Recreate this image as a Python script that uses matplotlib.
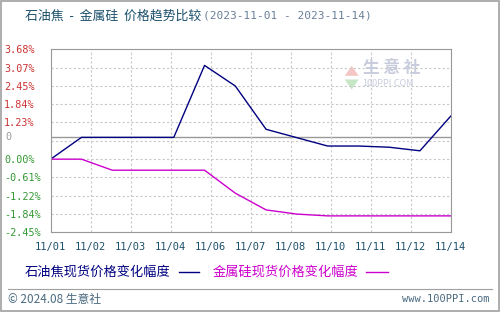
import numpy as np
import matplotlib
matplotlib.use('Agg')
import matplotlib.pyplot as plt
from matplotlib.patches import Rectangle, Polygon
from matplotlib.lines import Line2D
import matplotlib.transforms as mtransforms

plt.rcParams['font.family'] = ['Noto Sans CJK SC', 'DejaVu Sans']

# data: daily change (%) vs 2023-11-01
days = ['11/01', '11/02', '11/03', '11/04', '11/05', '11/06', '11/07',
        '11/08', '11/09', '11/10', '11/11', '11/12', '11/13', '11/14']
pet_coke = [0.00, 0.73, 0.73, 0.73, 0.73, 3.14, 2.45, 1.00, 0.72, 0.44, 0.44, 0.40, 0.28, 1.44]
silicon = [0.00, 0.00, -0.37, -0.37, -0.37, -0.37, -1.14, -1.70, -1.84, -1.90, -1.90, -1.90, -1.90, -1.90]
xlabels = ['11/01', '11/02', '11/03', '11/04', '11/06', '11/07', '11/08', '11/10', '11/11', '11/12', '11/14']
yticks = [-2.45, -1.84, -1.22, -0.61, 0.00, 0.61, 1.23, 1.84, 2.45, 3.07, 3.68]
ylabels = ['-2.45%', '-1.84%', '-1.22%', '-0.61%', '0.00%', '', '1.23%', '1.84%', '2.45%', '3.07%', '3.68%']
zero_line = 0.73

c_blue = '#000080'
c_mag = '#CC00CC'
c_teal = '#1B4F6B'
c_red = '#CC3333'
c_green = '#339933'
mono = ['DejaVu Sans Mono', 'Noto Sans CJK SC']

fig = plt.figure(figsize=(5, 3.12), dpi=100)
ax = fig.add_axes([50.7/500, 1-232.3/312, 400/500, 183/312])

x = np.arange(len(days))
ax.plot(x, pet_coke, color=c_blue, lw=1.0)
ax.plot(x, silicon, color=c_mag, lw=1.0)
ax.axhline(zero_line, color='#999999', lw=1.0, zorder=1)

ax.set_xlim(0, len(days) - 1)
ax.set_ylim(yticks[0], yticks[-1])
ax.set_xticks(np.linspace(0, len(days) - 1, len(xlabels)))
ax.set_xticklabels(xlabels, family=mono, fontsize=7.5, color=c_teal)
ax.set_yticks(yticks)
ax.set_yticklabels(ylabels, family=mono, fontsize=7.3, ha='left')
for lab, v in zip(ax.get_yticklabels(), yticks):
    lab.set_color(c_green if v <= 0 else c_red)
ax.tick_params(length=0)
ax.tick_params(axis='y', pad=(50.7 - 4) * 0.72)
ax.tick_params(axis='x', pad=7)
trans = mtransforms.blended_transform_factory(fig.transFigure, ax.transData)
fig.text(5/500, zero_line, '0', transform=trans, ha='left', va='center',
         family=mono, fontsize=7.3, color='#999999')
ax.grid(True, color='#C8C8C8', ls=(0, (2, 2)), lw=0.8)
for s in ax.spines.values():
    s.set_color('#999999')

# watermark
ax.add_patch(Polygon([[0.735, 0.855], [0.77, 0.855], [0.7525, 0.91]], closed=True,
                     transform=ax.transAxes, color='#F2B8B8', alpha=0.8, lw=0))
ax.add_patch(Polygon([[0.735, 0.835], [0.77, 0.835], [0.7525, 0.78]], closed=True,
                     transform=ax.transAxes, color='#B8E0B8', alpha=0.8, lw=0))
ax.text(0.78, 0.9, '生 意 社', transform=ax.transAxes, fontsize=12, color='#C8CCDD',
        va='center', ha='left', fontweight='bold')
ax.text(0.78, 0.815, '100PPI.COM', transform=ax.transAxes, fontsize=6.5, color='#C8CCDD',
        va='center', ha='left')

# title
t1 = fig.text(25/500, 1-16/312, '石油焦  -  金属硅  价格趋势比较', fontsize=9.3, color=c_teal,
              va='center', ha='left')
fig.canvas.draw()
bb = t1.get_window_extent()
fig.text(bb.x1/500 + 0.003, 1-16/312, '(2023-11-01 - 2023-11-14)', family=mono,
         fontsize=8, color='#6A7F99', va='center', ha='left')

# legend
ly = 1-272/312
l1 = fig.text(25/500, ly, '石油焦现货价格变化幅度', fontsize=9.5, color=c_blue, va='center')
fig.canvas.draw()
b1 = l1.get_window_extent()
fig.add_artist(Line2D([b1.x1/500 + 0.016, b1.x1/500 + 0.056], [ly, ly], color=c_blue, lw=1))
l2 = fig.text(213/500, ly, '金属硅现货价格变化幅度', fontsize=9.5, color=c_mag, va='center')
fig.canvas.draw()
b2 = l2.get_window_extent()
fig.add_artist(Line2D([b2.x1/500 + 0.014, b2.x1/500 + 0.058], [ly, ly], color=c_mag, lw=1))

# footer
fig.add_artist(Line2D([8/500, 492/500], [1-289/312, 1-289/312], color='#A0A0A0', lw=0.8))
fig.text(8/500, 1-299/312, '© 2024.08 生意社', fontsize=8.5, color='#4A6A80', va='center')
fig.text(490/500, 1-299/312, 'www.100PPI.com', family=mono, fontsize=7.5, color='#4A6A80',
         va='center', ha='right')

# border
fig.add_artist(Rectangle((0.001, 0.002), 0.997, 0.996, transform=fig.transFigure,
                         fill=False, ec='#A0A0A0', lw=1.2))

fig.savefig('out.png', dpi=100)
